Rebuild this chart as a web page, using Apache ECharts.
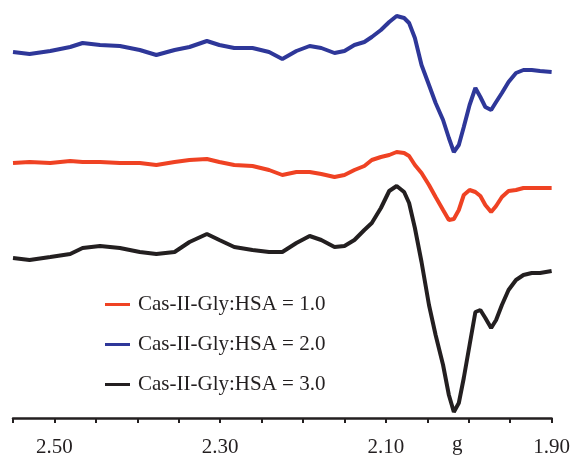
<!DOCTYPE html>
<html>
<head>
<meta charset="utf-8">
<script src="https://cdn.jsdelivr.net/npm/echarts@6/dist/echarts.min.js"></script>
<style>
  html, body { margin: 0; padding: 0; background: #fff; }
  #main { width: 573px; height: 461px; }
</style>
</head>
<body>
<div id="main"></div>
<script>
// g values (x axis, reversed)
var gValues = [2.550, 2.530, 2.505, 2.481, 2.466, 2.445, 2.421, 2.397, 2.377, 2.355,
  2.337, 2.316, 2.301, 2.283, 2.261, 2.241, 2.225, 2.208, 2.192, 2.178,
  2.162, 2.150, 2.138, 2.126, 2.117, 2.106, 2.096, 2.087, 2.078, 2.072,
  2.065, 2.057, 2.048, 2.040, 2.031, 2.024, 2.018, 2.012, 2.006, 1.999,
  1.992, 1.986, 1.980, 1.973, 1.967, 1.960, 1.952, 1.943, 1.934, 1.924,
  1.914, 1.900];

// signal (arbitrary units, with vertical offsets)
var ratio1 = [255, 256, 255, 257, 256, 256, 255, 255, 253, 256,
  258, 259, 256, 253, 252, 248, 243, 246, 246, 244,
  241, 243, 248, 252, 258, 261, 263, 266, 265, 262,
  253, 245, 233, 221, 208, 198, 199, 208, 223, 228,
  226, 222, 213, 206, 212, 221, 227, 228, 230, 230,
  230, 230];
var ratio2 = [366, 364, 367, 371, 375, 373, 372, 368, 363, 368,
  371, 377, 373, 370, 370, 366, 359, 367, 372, 370,
  365, 367, 373, 376, 381, 388, 396, 402, 400, 395,
  380, 353, 333, 315, 298, 280, 266, 273, 291, 313,
  330, 321, 311, 308, 316, 325, 336, 345, 348, 348,
  347, 346];
var ratio3 = [160, 158, 161, 164, 170, 172, 170, 166, 164, 166,
  176, 184, 178, 171, 168, 166, 166, 175, 182, 178,
  171, 172, 178, 188, 195, 210, 227, 232, 226, 215,
  190, 156, 113, 83, 53, 23, 6, 15, 40, 73,
  106, 108, 100, 90, 98, 113, 128, 138, 143, 145,
  145, 147];

var names = ['Cas-II-Gly:HSA = 1.0', 'Cas-II-Gly:HSA = 2.0', 'Cas-II-Gly:HSA = 3.0'];
var colors = ['#ef4223', '#2e3799', '#231f20'];
var labelTicks = [250, 230, 210, 190];

function pairs(vals) {
  return gValues.map(function (g, i) { return [g, vals[i]]; });
}

var chart = echarts.init(document.getElementById('main'));
var fontFamily = '"Liberation Serif", "DejaVu Serif", serif';

var option = {
  backgroundColor: '#fff',
  animation: false,
  grid: { left: 13, right: 20, top: 0, bottom: 43 },
  legend: {
    orient: 'vertical',
    left: 100,
    top: 289,
    itemWidth: 25,
    itemHeight: 3,
    itemGap: 19,
    icon: 'rect',
    textStyle: { fontFamily: fontFamily, fontSize: 21, color: '#231f20', padding: [0, 0, 0, 3] },
    data: names
  },
  xAxis: {
    type: 'value',
    inverse: true,
    min: 1.90,
    max: 2.55,
    interval: 0.05,
    splitLine: { show: false },
    axisLine: { lineStyle: { color: '#231f20', width: 2.5 } },
    axisTick: { inside: false, length: 5, lineStyle: { color: '#231f20', width: 2 } },
    axisLabel: {
      margin: 19,
      fontFamily: fontFamily,
      fontSize: 21,
      color: '#231f20',
      formatter: function (v) {
        var k = Math.round(v * 100);
        return labelTicks.indexOf(k) >= 0 ? v.toFixed(2) : '';
      }
    }
  },
  yAxis: {
    type: 'value',
    min: 0,
    max: 418,
    show: false
  },
  graphic: [{
    type: 'text',
    left: 452,
    top: 434,
    style: { text: 'g', fontFamily: fontFamily, fontSize: 21, fill: '#231f20' }
  }],
  series: [ratio1, ratio2, ratio3].map(function (vals, i) {
    return {
      name: names[i],
      type: 'line',
      symbol: 'none',
      data: pairs(vals),
      lineStyle: { color: colors[i], width: 4 },
      itemStyle: { color: colors[i] }
    };
  })
};

chart.setOption(option);
</script>
</body>
</html>
